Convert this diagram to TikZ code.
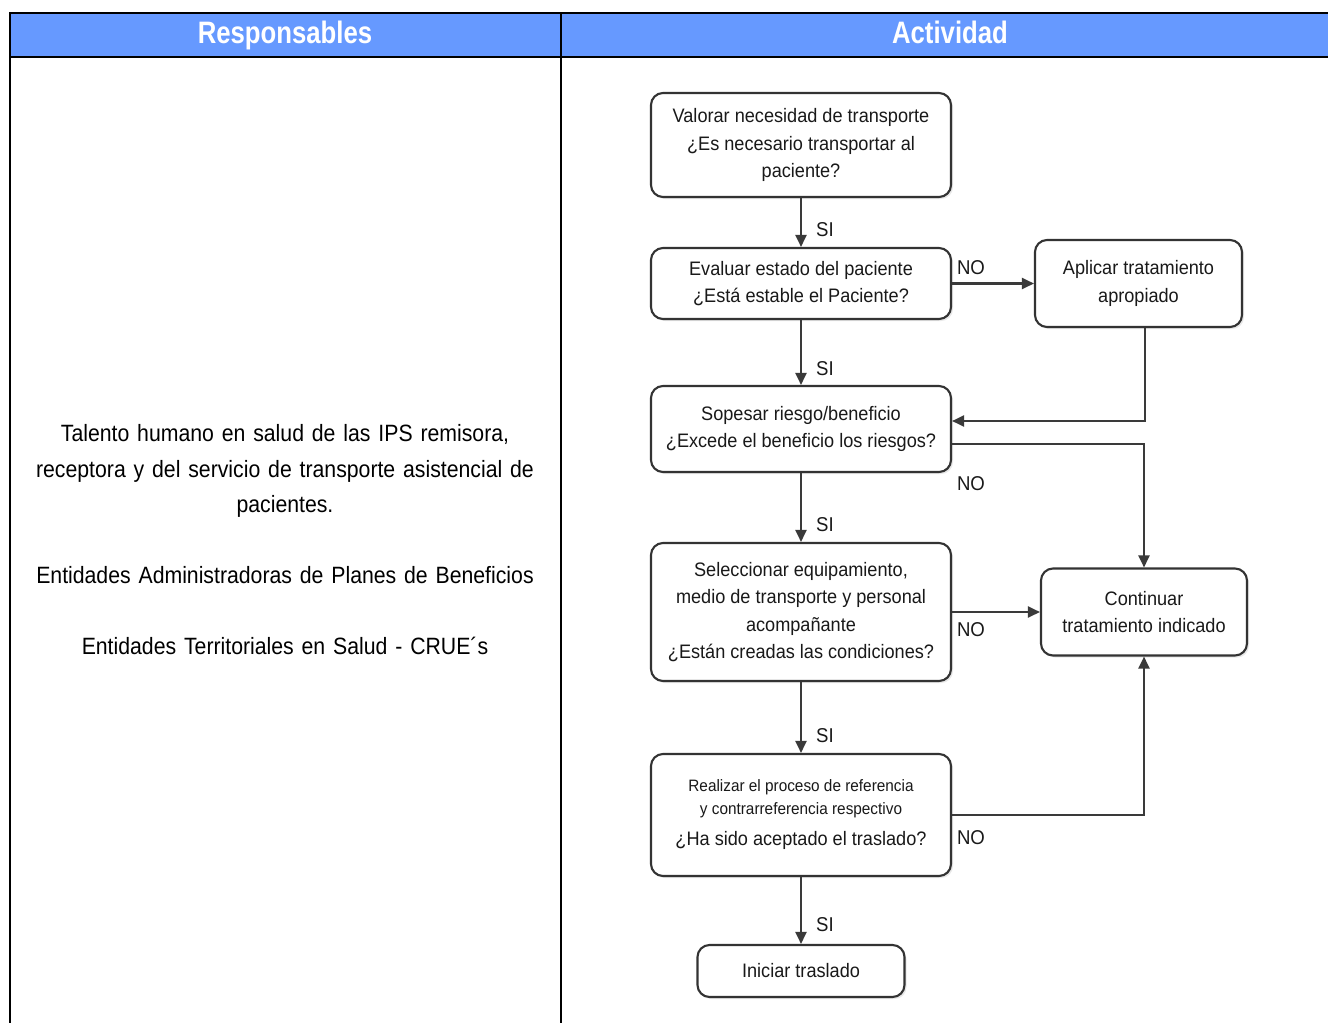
\documentclass[tikz,border=0pt]{standalone}
\usepackage{fontspec}
\setmainfont{Liberation Sans}
\newfontfamily\hdrfont[FakeStretch=0.83]{Liberation Sans}
\newfontfamily\leftfont[FakeStretch=0.9]{Liberation Sans}
\newfontfamily\flowfont[FakeStretch=0.93]{Liberation Sans}
\usetikzlibrary{arrows.meta,shadows}
\definecolor{hdrblue}{HTML}{6699FF}
\definecolor{boxline}{HTML}{333333}
\definecolor{conn}{HTML}{3A3A3A}
\begin{document}
\begin{tikzpicture}[x=1pt,y=-1pt,
  box/.style={draw=boxline, fill=white, line width=2.1pt, rounded corners=12pt, align=center, inner sep=0pt,
    font=\flowfont\fontsize{19.5}{27.5}\selectfont, text=black!90,
    drop shadow={shadow xshift=2pt, shadow yshift=-2pt, opacity=0.18}},
  arr/.style={draw=conn, line width=2.1pt, -{Triangle[length=12pt,width=11pt]}},
  lbl/.style={font=\flowfont\fontsize{20}{22}\selectfont, text=black!90, inner sep=0pt},
  hdr/.style={font=\hdrfont\bfseries\fontsize{31}{34}\selectfont, text=white, inner sep=0pt, anchor=base},
  rule/.style={line width=2pt, draw=black}]
\useasboundingbox (0,0) rectangle (1328,1023);
\fill[white] (0,0) rectangle (1328,1023);
% table
\fill[hdrblue] (10,13) rectangle (1328,57);
\draw[rule] (1328,13) -- (10,13) -- (10,1023);
\draw[rule] (10,57) -- (1328,57);
\draw[rule] (561,13) -- (561,1023);
\node[hdr] (h1) at (285,43) {Responsables};
\node[hdr] (h2) at (950,43) {Actividad};
% left text
\node[align=center, inner sep=0pt, text width=540pt, font=\leftfont\fontsize{23.6}{35.5}\selectfont] (resp) at (285,540)
 {Talento humano en salud de las IPS remisora,\\ receptora y del servicio de transporte asistencial de\\ pacientes.\\ \strut\\ Entidades Administradoras de Planes de Beneficios\\ \strut\\ Entidades Territoriales en Salud - CRUE´s};
% flow boxes
\node[box, minimum width=300pt, minimum height=104pt] (b1) at (801,145)
 {Valorar necesidad de transporte\\ ¿Es necesario transportar al\\ paciente?};
\node[box, minimum width=300pt, minimum height=71pt] (b2) at (801,283.5)
 {Evaluar estado del paciente\\ ¿Está estable el Paciente?};
\node[box, minimum width=207pt, minimum height=87pt] (b3) at (1138.5,283.5)
 {Aplicar tratamiento\\ apropiado};
\node[box, minimum width=300pt, minimum height=86pt] (b4) at (801,429)
 {Sopesar riesgo/beneficio\\ ¿Excede el beneficio los riesgos?};
\node[box, minimum width=300pt, minimum height=138pt] (b5) at (801,612)
 {Seleccionar equipamiento,\\ medio de transporte y personal\\ acompañante\\ ¿Están creadas las condiciones?};
\node[box, minimum width=206pt, minimum height=87pt] (b6) at (1144,612)
 {Continuar\\ tratamiento indicado};
\node[box, minimum width=300pt, minimum height=122pt] (b7) at (801,815)
 {{\fontsize{16.5}{22}\selectfont Realizar el proceso de referencia}\\[-4.5pt] {\fontsize{16.5}{22}\selectfont y contrarreferencia respectivo}\\[3.5pt] ¿Ha sido aceptado el traslado?};
\node[box, minimum width=207pt, minimum height=52pt] (b8) at (801,971)
 {Iniciar traslado};
% connectors
\draw[arr] (b1) -- (b2);
\draw[arr] (b2.east) -- (b3.west);
\draw[arr] ([xshift=6.5pt]b3.south) |- ([yshift=8pt]b4.east);
\draw[arr] (b2) -- (b4);
\draw[arr] ([yshift=-15pt]b4.east) -| (b6.north);
\draw[arr] (b4) -- (b5);
\draw[arr] (b5.east) -- (b6.west);
\draw[arr] (b5) -- (b7);
\draw[arr] (b7.east) -| (b6.south);
\draw[arr] (b7) -- (b8);
% labels
\node[lbl] (si1) at (825,230) {SI};
\node[lbl] (si2) at (825,369) {SI};
\node[lbl] (si3) at (825,525) {SI};
\node[lbl] (si4) at (825,736) {SI};
\node[lbl] (si5) at (825,925) {SI};
\node[lbl] (no1) at (971,268) {NO};
\node[lbl] (no2) at (971,484) {NO};
\node[lbl] (no3) at (971,630) {NO};
\node[lbl] (no4) at (971,838) {NO};
\end{tikzpicture}
\end{document}
